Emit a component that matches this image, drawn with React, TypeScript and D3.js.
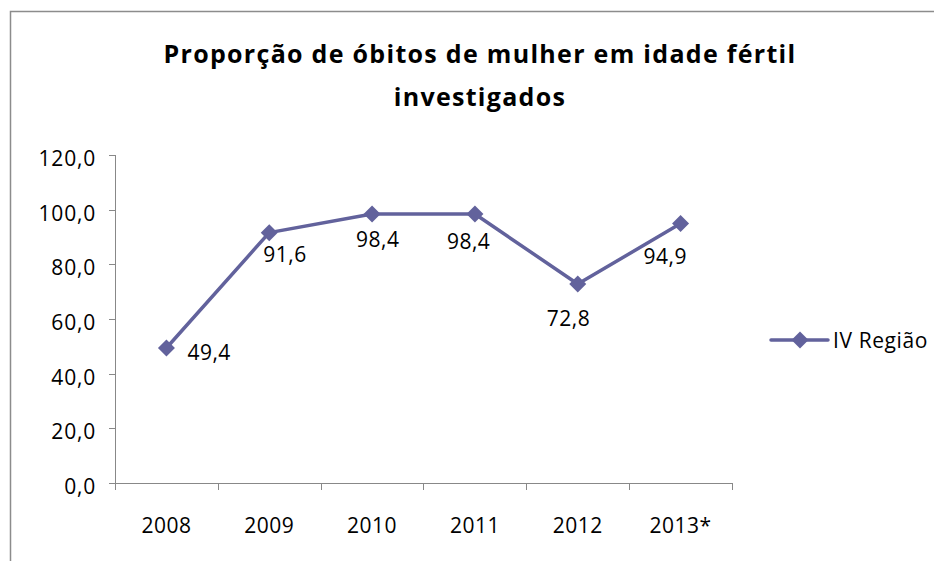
import React from "react";
import * as d3 from "d3";

const categories = ["2008", "2009", "2010", "2011", "2012", "2013*"];
const values = [49.4, 91.6, 98.4, 98.4, 72.8, 94.9];
const valueLabels = ["49,4", "91,6", "98,4", "98,4", "72,8", "94,9"];
const yTicks = [0, 20, 40, 60, 80, 100, 120];
const seriesName = "IV Região";
const titleLines = ["Proporção de óbitos de mulher em idade fértil", "investigados"];

const COLOR = "#62629c";
const FONT = "'Open Sans', sans-serif";

export default function App() {
  const W = 934, H = 561;
  const left = 115, right = 732, top = 155, bottom = 483;
  const x = d3.scaleBand<string>().domain(categories).range([left, right]);
  const y = d3.scaleLinear().domain([0, 120]).range([bottom, top]);
  const line = d3.line<number>()
    .x((_, i) => (x(categories[i]) as number) + x.bandwidth() / 2)
    .y((d) => y(d));
  // label offsets relative to point (text-anchor start)
  const labelOff = [[21, 12], [-6, 29], [-16, 33], [-28, 35], [-31, 42], [-37, 40]];
  const diamond = (cx: number, cy: number, r: number) =>
    `M${cx},${cy - r}L${cx + r},${cy}L${cx},${cy + r}L${cx - r},${cy}Z`;
  const bounds = [left, ...categories.map((c) => (x(c) as number) + x.bandwidth())];
  return (
    <svg width={W} height={H} style={{ position: "absolute", left: 0, top: 0, background: "#fff" }}>
      <rect x={10.5} y={11.5} width={W + 20} height={H + 20} fill="#fff" stroke="#8c8c8c" strokeWidth={1.5} />
      {titleLines.map((t, i) => (
        <text key={i} x={480} y={63 + i * 43} textAnchor="middle" fontFamily={FONT} fontWeight="bold" fontSize={25} letterSpacing={1.3} fill="#000">{t}</text>
      ))}
      {/* y axis */}
      <line x1={left + 0.5} x2={left + 0.5} y1={top} y2={bottom} stroke="#888" />
      {yTicks.map((t) => (
        <g key={t}>
          <line x1={left - 6} x2={left} y1={Math.round(y(t)) + 0.5} y2={Math.round(y(t)) + 0.5} stroke="#888" />
          <text x={96} y={y(t) + 11} textAnchor="end" fontFamily={FONT} fontSize={21} letterSpacing={0.8} fill="#000">{t.toFixed(1).replace(".", ",")}</text>
        </g>
      ))}
      {/* x axis */}
      <line x1={left} x2={right} y1={bottom + 0.5} y2={bottom + 0.5} stroke="#888" />
      {bounds.map((b, i) => (
        <line key={i} x1={Math.round(b) + 0.5} x2={Math.round(b) + 0.5} y1={bottom} y2={bottom + 7} stroke="#888" />
      ))}
      {categories.map((c) => (
        <text key={c} x={(x(c) as number) + x.bandwidth() / 2} y={533} textAnchor="middle" fontFamily={FONT} fontSize={21} letterSpacing={0.5} fill="#000">{c}</text>
      ))}
      <path d={line(values) || ""} fill="none" stroke={COLOR} strokeWidth={3.5} strokeLinejoin="round" />
      {values.map((v, i) => {
        const cx = (x(categories[i]) as number) + x.bandwidth() / 2;
        const cy = y(v);
        return (
          <g key={i}>
            <path d={diamond(cx, cy, 8.5)} fill={COLOR} />
            <text x={cx + labelOff[i][0]} y={cy + labelOff[i][1]} fontFamily={FONT} fontSize={21} letterSpacing={0.5} fill="#000">{valueLabels[i]}</text>
          </g>
        );
      })}
      {/* legend */}
      <line x1={771} x2={828} y1={340} y2={340} stroke={COLOR} strokeWidth={3.5} strokeLinecap="round" />
      <path d={diamond(800, 340, 8.5)} fill={COLOR} />
      <text x={833} y={348} fontFamily={FONT} fontSize={21} letterSpacing={0.6} fill="#000">{seriesName}</text>
    </svg>
  );
}
